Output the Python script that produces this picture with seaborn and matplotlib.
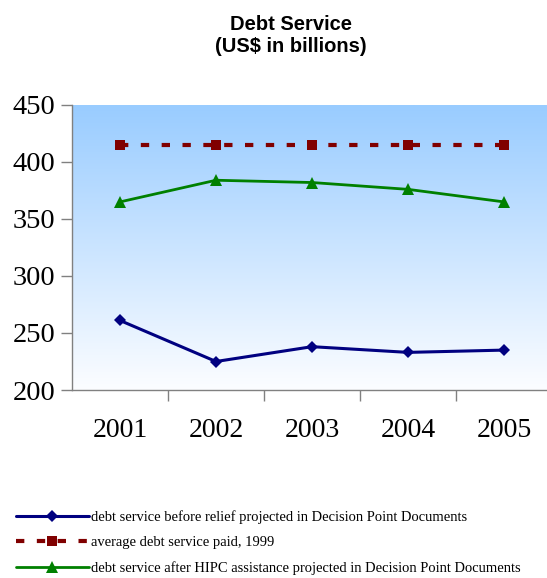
import numpy as np
import pandas as pd
import seaborn as sns
import matplotlib.pyplot as plt
from matplotlib.colors import LinearSegmentedColormap
from matplotlib.lines import Line2D

# chart data
years = [2001, 2002, 2003, 2004, 2005]
before_relief = [261, 225, 238, 233, 235]
avg_1999 = [415, 415, 415, 415, 415]
after_hipc = [365, 384, 382, 376, 365]
labels = [
    "debt service before relief projected in Decision Point Documents",
    "average debt service paid, 1999",
    "debt service after HIPC assistance projected in Decision Point Documents",
]
y_ticks = [200, 250, 300, 350, 400, 450]

sns.set_style("white")
plt.rcParams['font.family'] = ['Liberation Serif', 'DejaVu Serif']
plt.rcParams['text.color'] = 'black'
plt.rcParams['xtick.color'] = 'black'
plt.rcParams['ytick.color'] = 'black'

fig = plt.figure(figsize=(5.47, 5.78), dpi=100)
ax = fig.add_axes([72 / 547, 1 - 390 / 578, 480 / 547, 285 / 578])

# gradient background
cmap = LinearSegmentedColormap.from_list("bg", ["#FCFDFF", "#99CCFF"])
grad = np.linspace(0, 1, 256).reshape(-1, 1)
ax.imshow(grad, cmap=cmap, aspect='auto', origin='lower', extent=[0, 1, 0, 1],
          transform=ax.transAxes, zorder=0)

df = pd.DataFrame({"year": years, "before": before_relief,
                   "avg": avg_1999, "after": after_hipc})

blue_style = dict(color="#000080", lw=2.2, marker="D", markersize=6, markeredgewidth=0)
red_style = dict(color="#800000", lw=3, marker="s", markersize=7.3, markeredgewidth=0,
                 dashes=(2, 3))
green_style = dict(color="#008000", lw=2, marker="^", markersize=8, markeredgewidth=0)

sns.lineplot(data=df, x="year", y="before", ax=ax, zorder=3, **blue_style)
sns.lineplot(data=df, x="year", y="avg", ax=ax, zorder=3, **red_style)
sns.lineplot(data=df, x="year", y="after", ax=ax, zorder=3, **green_style)

ax.set_xlim(2000.5, 2005.5)
ax.set_ylim(200, 450)
ax.set_yticks(y_ticks)
ax.set_xticks(years)
ax.set_xticklabels([str(y) for y in years], fontsize=20)
ax.set_xticks([2001.5, 2002.5, 2003.5, 2004.5], minor=True)
ax.tick_params(axis='y', labelsize=20.5, length=8, width=1, color="#808080",
               direction='out', left=True, pad=4)
ax.tick_params(axis='x', which='major', length=0, pad=20)
ax.tick_params(axis='x', which='minor', length=8, width=1, color="#808080",
               direction='out', bottom=True)
ax.set_xlabel("")
ax.set_ylabel("")
for s in ["top", "right"]:
    ax.spines[s].set_visible(False)
for s in ["left", "bottom"]:
    ax.spines[s].set_color("#808080")
    ax.spines[s].set_linewidth(1)

fig.text(291 / 547, 1 - 35 / 578, "Debt Service\n(US$ in billions)", ha='center',
         va='center', fontsize=14.5, fontweight='bold',
         family=['Liberation Sans', 'DejaVu Sans'], linespacing=1.2)

handles = [Line2D([], [], **blue_style), Line2D([], [], **red_style),
           Line2D([], [], **green_style)]
fig.legend(handles, labels, loc='upper left', bbox_to_anchor=(16 / 547, 1 - 510 / 578),
           frameon=False, fontsize=10.45, handlelength=5.0, handletextpad=0.2,
           labelspacing=0.85, borderpad=0, borderaxespad=0)

fig.savefig("out.png", dpi=100)
